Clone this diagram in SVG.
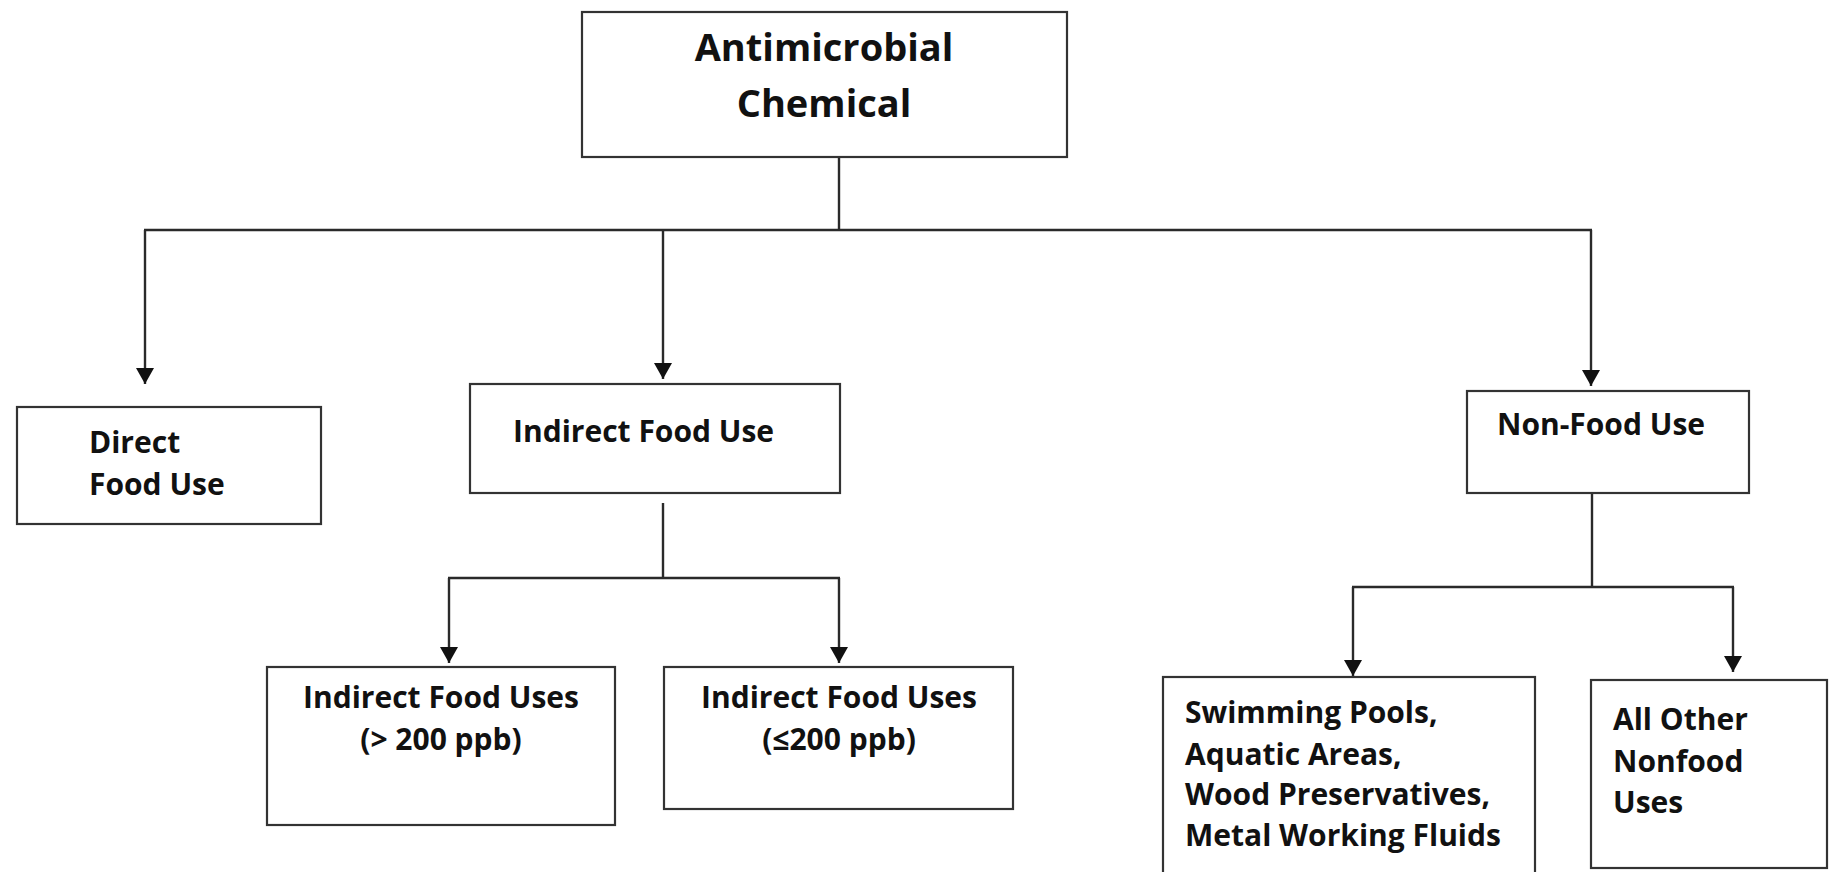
<svg xmlns="http://www.w3.org/2000/svg" width="1830" height="872" viewBox="0 0 1830 872">
<style>
.box{fill:#fff;stroke:#333;stroke-width:2.2}
.t{font-family:"Open Sans","Liberation Sans",sans-serif;font-weight:700;fill:#111;font-size:30px}
.big{font-size:38px}
.c{text-anchor:middle}
.ln{fill:none;stroke:#2a2a2a;stroke-width:2.4}
</style>
<defs>
<marker id="ah" viewBox="0 0 16 18" refX="16" refY="9" markerWidth="16" markerHeight="18" markerUnits="userSpaceOnUse" orient="auto">
<path d="M0,0 L16,9 L0,18 z" fill="#111"/>
</marker>
</defs>
<rect width="1830" height="872" fill="#fff"/>
<g id="connectors">
<path class="ln" d="M839,157 V230"/>
<path class="ln" d="M144,230 H1592"/>
<path class="ln" d="M145,230 V384" marker-end="url(#ah)"/>
<path class="ln" d="M663,230 V379" marker-end="url(#ah)"/>
<path class="ln" d="M1591,230 V386" marker-end="url(#ah)"/>
<path class="ln" d="M663,503 V578"/>
<path class="ln" d="M448,578 H840"/>
<path class="ln" d="M449,578 V663" marker-end="url(#ah)"/>
<path class="ln" d="M839,578 V663" marker-end="url(#ah)"/>
<path class="ln" d="M1592,493 V587"/>
<path class="ln" d="M1352,587 H1734"/>
<path class="ln" d="M1353,587 V676" marker-end="url(#ah)"/>
<path class="ln" d="M1733,587 V672" marker-end="url(#ah)"/>
</g>
<g id="root">
<rect class="box" x="582" y="12" width="485" height="145"/>
<text class="t big c" x="824" y="61">Antimicrobial</text>
<text class="t big c" x="824" y="117">Chemical</text>
</g>
<g id="direct">
<rect class="box" x="17" y="407" width="304" height="117"/>
<text class="t" x="89" y="453">Direct</text>
<text class="t" x="89" y="495">Food Use</text>
</g>
<g id="indirect">
<rect class="box" x="470" y="384" width="370" height="109"/>
<text class="t" x="513" y="442">Indirect Food Use</text>
</g>
<g id="nonfood">
<rect class="box" x="1467" y="391" width="282" height="102"/>
<text class="t" x="1497" y="435">Non-Food Use</text>
</g>
<g id="indirect-high">
<rect class="box" x="267" y="667" width="348" height="158"/>
<text class="t c" x="441" y="708">Indirect Food Uses</text>
<text class="t c" x="441" y="750">(&gt; 200 ppb)</text>
</g>
<g id="indirect-low">
<rect class="box" x="664" y="667" width="349" height="142"/>
<text class="t c" x="839" y="708">Indirect Food Uses</text>
<text class="t c" x="839" y="750">(≤200 ppb)</text>
</g>
<g id="pools">
<rect class="box" x="1163" y="677" width="372" height="210"/>
<text class="t" x="1185" y="723">Swimming Pools,</text>
<text class="t" x="1185" y="765">Aquatic Areas,</text>
<text class="t" x="1185" y="805">Wood Preservatives,</text>
<text class="t" x="1185" y="846">Metal Working Fluids</text>
</g>
<g id="other">
<rect class="box" x="1591" y="680" width="236" height="188"/>
<text class="t" x="1613" y="730">All Other</text>
<text class="t" x="1613" y="772">Nonfood</text>
<text class="t" x="1613" y="813">Uses</text>
</g>
</svg>
